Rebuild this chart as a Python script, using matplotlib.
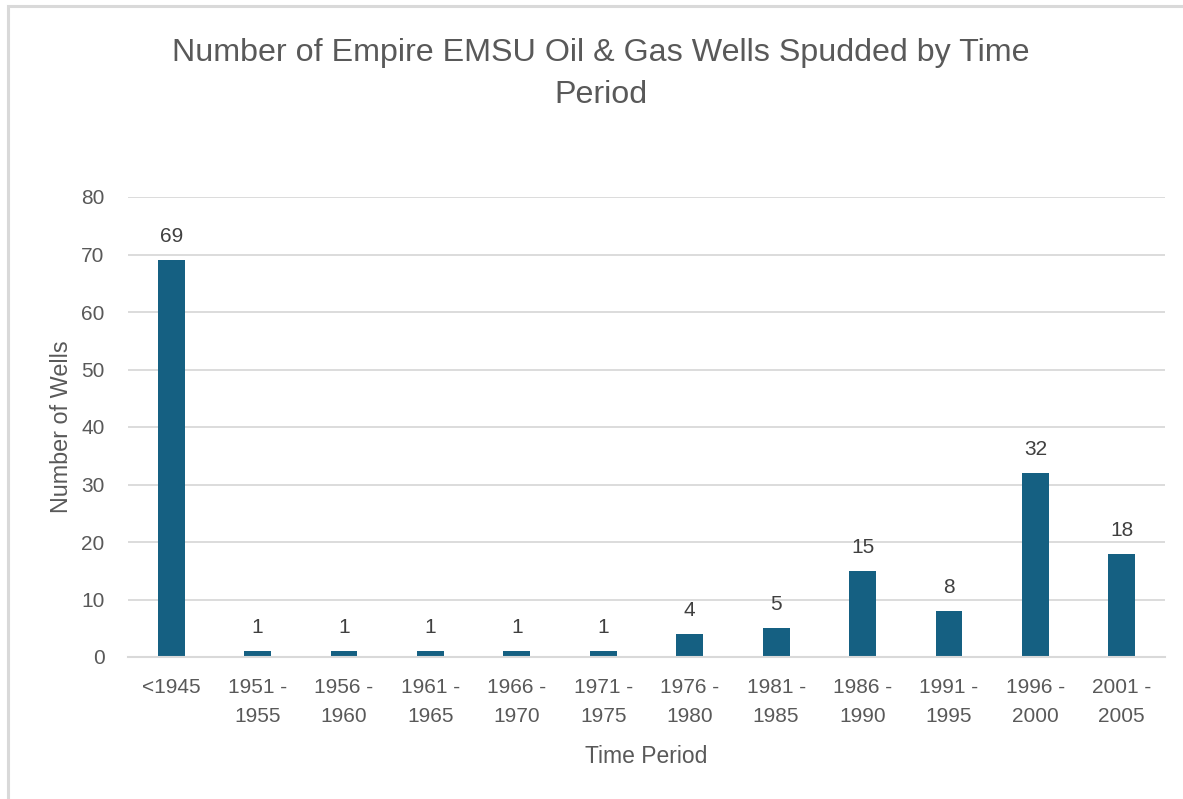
import matplotlib
matplotlib.use("Agg")
import matplotlib.pyplot as plt
from matplotlib.patches import Rectangle

categories = ["<1945", "1951 -\n1955", "1956 -\n1960", "1961 -\n1965", "1966 -\n1970",
              "1971 -\n1975", "1976 -\n1980", "1981 -\n1985", "1986 -\n1990",
              "1991 -\n1995", "1996 -\n2000", "2001 -\n2005"]
wells = [69, 1, 1, 1, 1, 1, 4, 5, 15, 8, 32, 18]
yticks = [0, 10, 20, 30, 40, 50, 60, 70, 80]

plt.rcParams['font.family'] = ['Liberation Sans', 'DejaVu Sans']

W, H = 1183, 799
fig = plt.figure(figsize=(W / 100, H / 100), dpi=100)
fig.patch.set_facecolor("white")

# outer border (chart frame)
fig.add_artist(Rectangle((8 / W, -0.02), 1.05, 1 - 6 / H + 0.02,
                         transform=fig.transFigure, fill=False,
                         edgecolor="#d9d9d9", linewidth=2.2))

ax = fig.add_axes([128 / W, 1 - 657 / H, (1165 - 128) / W, (657 - 197) / H])
x = list(range(len(categories)))
bars = ax.bar(x, wells, width=0.31, color="#156082", zorder=3)

ax.set_xlim(-0.5, len(categories) - 0.5)
ax.set_ylim(0, 80)
ax.set_yticks(yticks)
ax.set_xticks(x)
ax.set_xticklabels(categories)
ax.grid(axis="y", color="#d9d9d9", linewidth=1.3, zorder=0)
for s in ["top", "right", "left"]:
    ax.spines[s].set_visible(False)
ax.spines["bottom"].set_color("#d9d9d9")
ax.spines["bottom"].set_linewidth(1.5)
ax.spines["bottom"].set_zorder(4)
ax.tick_params(axis="both", length=0, labelsize=15, colors="#595959")
ax.tick_params(axis="y", pad=17)
ax.tick_params(axis="x", pad=15)
for lbl in ax.get_xticklabels():
    lbl.set_linespacing(1.65)

for xi, v in zip(x, wells):
    ax.annotate(str(v), (xi, v), xytext=(0, 10), textcoords="offset points",
                ha="center", va="bottom", fontsize=15, color="#404040")

ax.set_ylabel("Number of Wells", fontsize=16.8, color="#595959", labelpad=6)
ax.set_xlabel("Time Period", fontsize=16.5, color="#595959", labelpad=14)

fig.text(601 / W, 1 - 74 / H, "Number of Empire EMSU Oil & Gas Wells Spudded by Time\nPeriod",
         ha="center", va="center", fontsize=23.2, color="#595959", linespacing=1.55)

fig.savefig("out.png", dpi=100, facecolor="white")
